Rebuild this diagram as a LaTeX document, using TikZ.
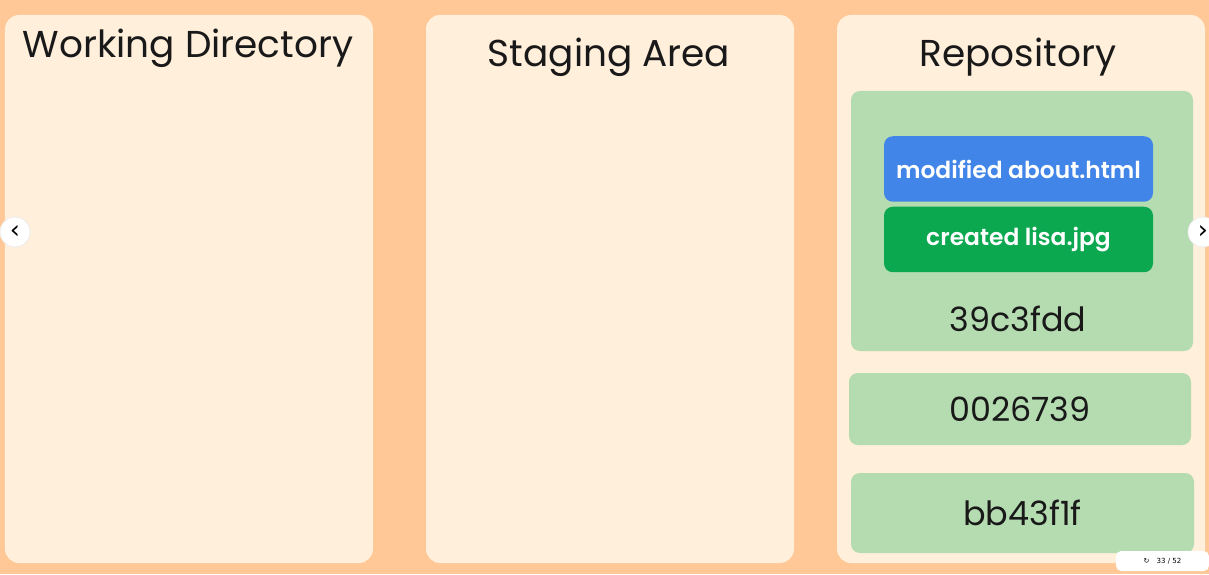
\documentclass[tikz,border=0pt]{standalone}
\usepackage{fontspec}
\setmainfont{Poppins}
\newfontfamily\medfont{Poppins SemiBold}
\newfontfamily\symfont{DejaVu Sans}
\usepackage{tikz}

\definecolor{peach}{RGB}{255,200,150}
\definecolor{cream}{RGB}{255,239,219}
\definecolor{sage}{RGB}{180,220,176}
\definecolor{gblue}{RGB}{66,133,232}
\definecolor{ggreen}{RGB}{11,168,79}

\begin{document}
\begin{tikzpicture}[>=latex,
  panel/.style={fill=cream, rounded corners=8pt, minimum width=7.36cm, minimum height=10.96cm},
  title/.style={font=\fontsize{21.3}{24}\selectfont, text=black!90},
  commitbox/.style={fill=sage, rounded corners=5pt, minimum width=6.84cm},
  change/.style={rounded corners=5pt, minimum width=5.38cm, minimum height=1.31cm, text=white, font=\fontsize{13.3}{15}\medfont},
  hash/.style={font=\fontsize{19}{22}\selectfont, text=black!90},
  navbtn/.style={shape=circle, fill=white, draw=black!8, minimum size=0.6cm, inner sep=0pt, font=\symfont\Large}]
  \useasboundingbox (0,0) rectangle (24.18,11.48);
  \fill[peach] (0,0) rectangle (24.18,11.48);

  \node (wd) at (3.78,5.70) [panel] {} ;
  \node (sa) at (12.20,5.70) [panel] {} ;
  \node (repo) at (20.42,5.70) [panel] {} ;

  \node (wdtitle) at (3.76,10.52) [title] {Working Directory} ;
  \node (satitle) at (12.18,10.34) [title] {Staging Area} ;
  \node (repotitle) at (20.36,10.34) [title] {Repository} ;

  % newest commit with its changes
  \node (c1) at (20.44,7.06) [commitbox, minimum height=5.2cm] {} ;
  \node (mod) at (20.37,8.10) [change, fill=gblue] {modified about.html} ;
  \node (new) at (20.37,6.69) [change, fill=ggreen] {created lisa.jpg} ;
  \node (c1hash) at (20.36,5.10) [hash] {39c3fdd} ;

  % older commits
  \node (c2) at (20.40,3.30) [commitbox, minimum height=1.44cm, hash] {0026739} ;
  \node (c3) at (20.45,1.22) [commitbox, minimum height=1.6cm, minimum width=6.86cm, hash] {bb43f1f} ;

  \node (prev) at (0.30,6.84) [navbtn] {‹} ;
  \node (next) at (24.06,6.84) [navbtn] {›} ;

  \node (bar) at (23.25,0.26) [fill=white, rounded corners=3pt, minimum width=1.86cm, minimum height=0.4cm, inner sep=0pt, font=\symfont\fontsize{4}{5}\selectfont] {↻\quad 33 / 52\qquad} ;
\end{tikzpicture}
\end{document}
